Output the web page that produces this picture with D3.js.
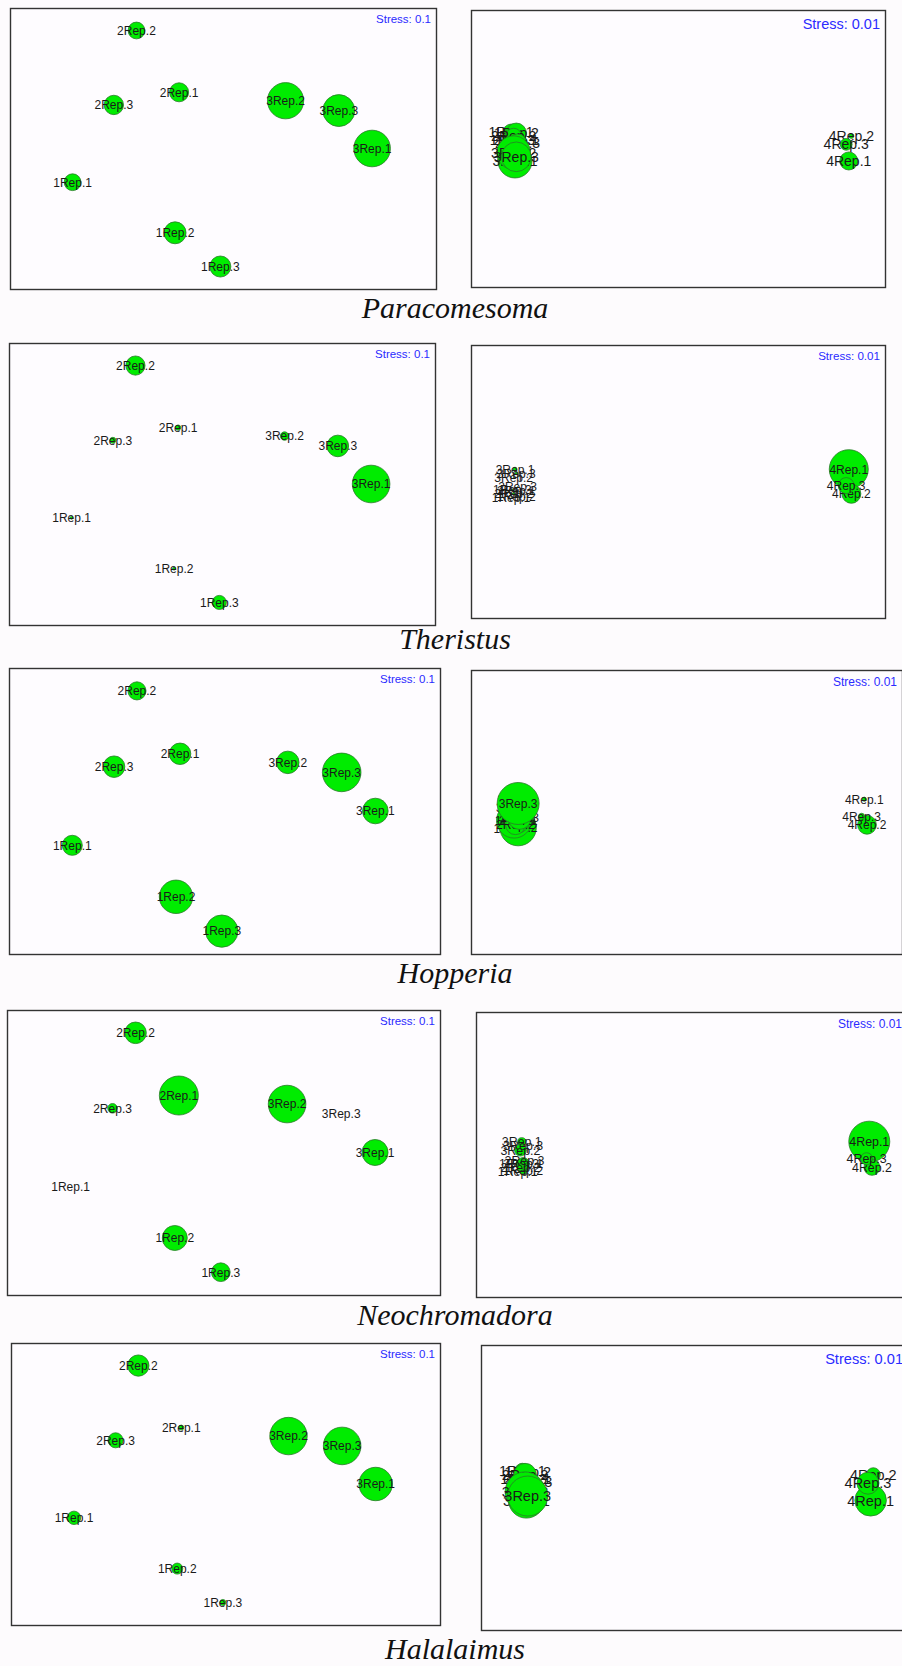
<!DOCTYPE html>
<html>
<head>
<meta charset="utf-8">
<title>nMDS bubble plots of nematode genera</title>
<script src="https://cdn.jsdelivr.net/npm/d3@7/dist/d3.min.js"></script>
<style>
  html, body { margin: 0; padding: 0; background: #fdfbfd; }
  svg { display: block; }
</style>
</head>
<body>
<svg id="chart" width="902" height="1666"></svg>
<script>
// Sample names (station + replicate)
const samples = ["1Rep.1","1Rep.2","1Rep.3","2Rep.1","2Rep.2","2Rep.3","3Rep.1","3Rep.2","3Rep.3","4Rep.1","4Rep.2","4Rep.3"];

// nMDS ordination of stations 1-3 (9 samples)
const mds3X = [-1.13, -0.36, -0.02, -0.33, -0.65, -0.82, 1.12, 0.47, 0.87];
const mds3Y = [-0.24, -0.60, -0.84, 0.40, 0.84, 0.31, 0.00, 0.34, 0.27];
const stress3 = "Stress: 0.1";

// nMDS ordination of all four stations (12 samples)
const mds4X = [-1.29, -1.25, -1.28, -1.25, -1.27, -1.24, -1.26, -1.27, -1.25, 1.32, 1.34, 1.30];
const mds4Y = [0.12, 0.11, 0.06, 0.064, 0.09, 0.04, -0.09, -0.03, -0.06, -0.09, 0.09, 0.03];
const stress4 = "Stress: 0.01";

// Genus abundance per sample (same order as samples)
const genera = ["Paracomesoma", "Theristus", "Hopperia", "Neochromadora", "Halalaimus"];
const paracomesoma  = [21, 36, 33, 27, 21, 28, 100, 98, 76, 28, 2, 12];
const theristus     = [0.06, 0.06, 1.4, 0.2, 2.6, 0.25, 10, 0.5, 3.3, 950, 225, 160];
const hopperia      = [27, 75, 70, 31, 22, 31, 44, 34, 100, 1, 20, 2];
const neochromadora = [0, 8.2, 4.6, 20, 6.1, 1.2, 8.9, 18.6, 0, 230, 35, 20];
const halalaimus    = [12.7, 8.6, 2.5, 1.8, 32, 16, 79, 99, 100, 62, 12, 30];
const abundances = [paracomesoma, theristus, hopperia, neochromadora, halalaimus];

// Page layout of each row: left / right frames [x0, y0, x1, y1],
// label and stress font sizes, largest bubble radius, title baseline.
const rows = [
  { L: [10, 8, 436, 289],    R: [471, 10, 885, 287],    flip: false, lfs: 12, rfs: 14,   lss: 11.5, rss: 14.5, lr: 18.3, rr: 17,   ty: 318 },
  { L: [9, 343, 435, 625],   R: [471, 345, 885, 618],   flip: true,  lfs: 12, rfs: 12,   lss: 11.5, rss: 11.6, lr: 18.8, rr: 19.5, ty: 649 },
  { L: [9, 668, 440, 954],   R: [471, 670, 902, 954],   flip: true,  lfs: 12, rfs: 12,   lss: 11.5, rss: 12,   lr: 19.3, rr: 21,   ty: 983 },
  { L: [7, 1010, 440, 1295], R: [476, 1012, 907, 1297], flip: true,  lfs: 12, rfs: 12.4, lss: 11.5, rss: 12,   lr: 19.5, rr: 20.5, ty: 1325 },
  { L: [11, 1343, 440, 1625],R: [481, 1345, 908, 1630], flip: false, lfs: 12, rfs: 14.5, lss: 11.5, rss: 14.6, lr: 18.8, rr: 20,   ty: 1659 }
];

const svg = d3.select("#chart");
svg.append("rect").attr("width", 902).attr("height", 1666).attr("fill", "#fdfbfd");

function drawPanel(box, xs, ys, vals, flip, fs, sfs, rMax, stressText) {
  const [x0, y0, x1, y1] = box;
  const g = svg.append("g");
  g.append("rect")
    .attr("x", x0 + 0.5).attr("y", y0 + 0.5)
    .attr("width", x1 - x0).attr("height", y1 - y0)
    .attr("fill", "#fefcff").attr("stroke", "#333").attr("stroke-width", 1.4);

  const x = d3.scaleLinear().domain([-1.6, 1.6]).range([x0, x1]);
  const y = d3.scaleLinear().domain([-1, 1]).range(flip ? [y0, y1] : [y1, y0]);
  const r = d3.scaleSqrt().domain([0, d3.max(vals)]).range([0, rMax]);

  const pts = xs.map((d, i) => ({ name: samples[i], x: xs[i], y: ys[i], v: vals[i] }));
  const node = g.selectAll("g.pt").data(pts).join("g").attr("class", "pt");
  node.filter(d => d.v > 0).append("circle")
    .attr("cx", d => x(d.x)).attr("cy", d => y(d.y))
    .attr("r", d => r(d.v))
    .attr("fill", "#00ec00").attr("stroke", "#2a7a2a").attr("stroke-width", 0.8);
  node.append("text")
    .attr("x", d => x(d.x)).attr("y", d => y(d.y))
    .attr("dy", "0.36em")
    .attr("text-anchor", "middle")
    .attr("font-family", "'Liberation Sans', Arial, sans-serif")
    .attr("font-size", fs)
    .attr("fill", "#1a1a1a")
    .text(d => d.name);

  g.append("text")
    .attr("x", x1 - 5).attr("y", y0 + 0.95 * sfs)
    .attr("dy", "0.36em")
    .attr("text-anchor", "end")
    .attr("font-family", "'Liberation Sans', Arial, sans-serif")
    .attr("font-size", sfs)
    .attr("fill", "#2b2bff")
    .text(stressText);
}

rows.forEach((row, i) => {
  const vals = abundances[i];
  drawPanel(row.L, mds3X, mds3Y, vals.slice(0, 9), false, row.lfs, row.lss, row.lr, stress3);
  drawPanel(row.R, mds4X, mds4Y, vals, row.flip, row.rfs, row.rss, row.rr, stress4);
  svg.append("text")
    .attr("x", 455).attr("y", row.ty)
    .attr("text-anchor", "middle")
    .attr("font-family", "'Liberation Serif', 'Times New Roman', serif")
    .attr("font-style", "italic")
    .attr("font-size", 30)
    .attr("fill", "#111")
    .text(genera[i]);
});
</script>
</body>
</html>
